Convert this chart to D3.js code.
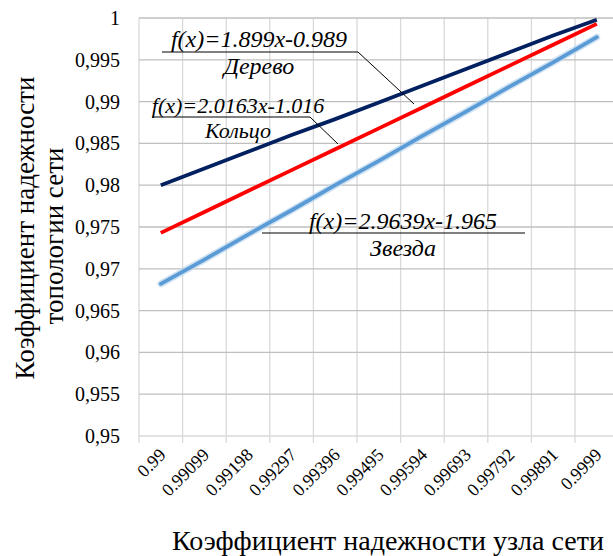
<!DOCTYPE html>
<html>
<head>
<meta charset="utf-8">
<script src="https://cdn.jsdelivr.net/npm/d3@7"></script>
</head>
<body style="margin:0">
<svg id="chart" width="613" height="556" font-family="Times New Roman"></svg>
<script>
// Node reliability (x categories)
const categories = ["0.99", "0.99099", "0.99198", "0.99297", "0.99396", "0.99495",
                    "0.99594", "0.99693", "0.99792", "0.99891", "0.9999"];

// Topology reliability for each network type
const treeValues = [0.9800, 0.9820, 0.9840, 0.9860, 0.9879, 0.9899, 0.9919, 0.9939, 0.9959, 0.9979, 0.9998];
const ringValues = [0.9743, 0.9768, 0.9793, 0.9818, 0.9843, 0.9868, 0.9893, 0.9918, 0.9943, 0.9968, 0.9993];
const starValues = [0.9682, 0.9711, 0.9741, 0.9770, 0.9800, 0.9829, 0.9859, 0.9888, 0.9918, 0.9947, 0.9977];

const yTicks = [0.95, 0.955, 0.96, 0.965, 0.97, 0.975, 0.98, 0.985, 0.99, 0.995, 1];
const yTickLabels = ["0,95", "0,955", "0,96", "0,965", "0,97", "0,975", "0,98", "0,985", "0,99", "0,995", "1"];

const svg = d3.select("#chart");

const plot = { left: 139, right: 618.6, top: 18, bottom: 436 };

const x = d3.scaleBand().domain(categories).range([plot.left, plot.right]).padding(0);
const y = d3.scaleLinear().domain([0.95, 1]).range([plot.bottom, plot.top]);

// Every text gets the serif face
function txt(parent) {
  return parent.append("text")
    .attr("font-family", "Times New Roman")
    .style("font-family", '"Times New Roman"')
    .attr("fill", "#000");
}

// Vertical gridlines at category boundaries
const boundaries = categories.map(c => x(c));
svg.append("g").selectAll("line").data(boundaries).join("line")
  .attr("x1", d => d).attr("x2", d => d)
  .attr("y1", plot.top).attr("y2", plot.bottom + 7)
  .attr("stroke", "#d9d9d9").attr("stroke-width", 1.3);

// Horizontal gridlines
svg.append("g").selectAll("line").data(yTicks).join("line")
  .attr("x1", plot.left).attr("x2", plot.right)
  .attr("y1", d => y(d)).attr("y2", d => y(d))
  .attr("stroke", d => d === 0.95 ? "#d9d9d9" : "#bfbfbf").attr("stroke-width", 1.3);

// Y tick labels
const yg = svg.append("g");
yTicks.forEach((d, i) => {
  txt(yg).attr("x", 120).attr("y", y(d)).attr("dy", "0.35em")
    .attr("text-anchor", "end").attr("font-size", 20)
    .text(yTickLabels[i]);
});

// X tick labels, rotated
const xg = svg.append("g");
categories.forEach(c => {
  txt(xg).attr("transform", `translate(${x(c) + x.bandwidth() / 2 + 6},${plot.bottom + 20}) rotate(-45)`)
    .attr("text-anchor", "end").attr("font-size", 18)
    .text(c);
});

// Series lines
const line = d3.line()
  .x((d, i) => x(categories[i]) + x.bandwidth() / 2)
  .y(d => y(d));

// Soft halo under the star series
svg.append("path").datum(starValues).attr("d", line)
  .attr("fill", "none").attr("stroke", "#bcd7f0").attr("stroke-width", 7)
  .attr("stroke-linecap", "round").attr("opacity", 0.7);
svg.append("path").datum(starValues).attr("d", line)
  .attr("fill", "none").attr("stroke", "#5b9bd5").attr("stroke-width", 3.8)
  .attr("stroke-linecap", "round");
svg.append("path").datum(ringValues).attr("d", line)
  .attr("fill", "none").attr("stroke", "#ff0000").attr("stroke-width", 3.8);
svg.append("path").datum(treeValues).attr("d", line)
  .attr("fill", "none").attr("stroke", "#002060").attr("stroke-width", 3.8);

// Trendline annotations: equation over a rule, series name beneath, leader line
const notes = [
  { eq: "f(x)=1.899x-0.989", name: "Дерево", size: 24, cx: 259, eqY: 47, nameY: 74,
    rule: [162, 52, 358, 52], leader: [358, 52, 414, 104] },
  { eq: "f(x)=2.0163x-1.016", name: "Кольцо", size: 22, cx: 238, eqY: 113, nameY: 138,
    rule: [152, 117, 310, 117], leader: [310, 117, 338, 144] },
  { eq: "f(x)=2.9639x-1.965", name: "Звезда", size: 24, cx: 403, eqY: 229, nameY: 256,
    rule: [262, 233, 525, 233], leader: null }
];

const ng = svg.append("g");
notes.forEach(n => {
  ng.append("line")
    .attr("x1", n.rule[0]).attr("y1", n.rule[1]).attr("x2", n.rule[2]).attr("y2", n.rule[3])
    .attr("stroke", "#000").attr("stroke-width", 1);
  if (n.leader) {
    ng.append("line")
      .attr("x1", n.leader[0]).attr("y1", n.leader[1]).attr("x2", n.leader[2]).attr("y2", n.leader[3])
      .attr("stroke", "#000").attr("stroke-width", 1);
  }
  txt(ng).attr("x", n.cx).attr("y", n.eqY).attr("text-anchor", "middle")
    .attr("font-size", n.size).attr("font-style", "italic").text(n.eq);
  txt(ng).attr("x", n.cx).attr("y", n.nameY).attr("text-anchor", "middle")
    .attr("font-size", n.size).attr("font-style", "italic").text(n.name);
});

// Axis titles
txt(svg).attr("transform", "translate(34,228) rotate(-90)")
  .attr("text-anchor", "middle").attr("font-size", 27)
  .text("Коэффициент надежности");
txt(svg).attr("transform", "translate(63,236) rotate(-90)")
  .attr("text-anchor", "middle").attr("font-size", 27)
  .text("топологии сети");
txt(svg).attr("x", 388).attr("y", 550)
  .attr("text-anchor", "middle").attr("font-size", 28)
  .text("Коэффициент надежности узла сети");
</script>
</body>
</html>
